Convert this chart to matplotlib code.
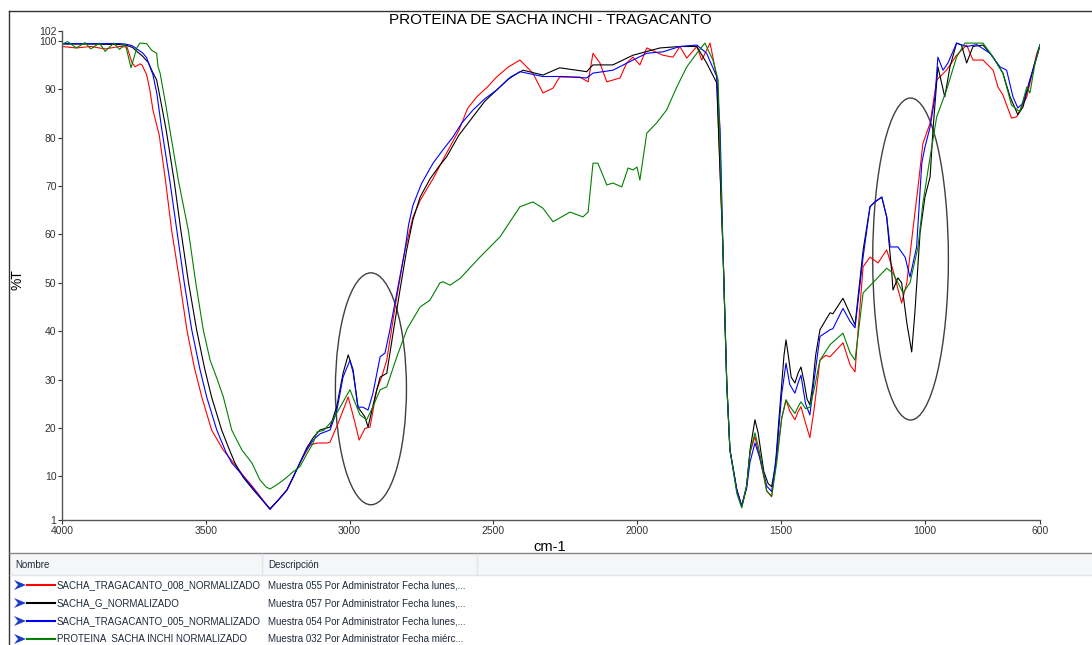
import matplotlib
matplotlib.use("Agg")
import matplotlib.pyplot as plt
from matplotlib.patches import Ellipse, Polygon, Rectangle
from matplotlib.lines import Line2D

plt.rcParams['font.family'] = ['Liberation Sans', 'DejaVu Sans']

# ---- data (wavenumber cm-1, %T) ----
red_wn = [4000, 3950, 3900, 3850, 3800, 3774, 3757, 3746, 3729, 3722, 3706, 3695, 3684, 3662,
          3640, 3619, 3590, 3566, 3540, 3514, 3480, 3440, 3404, 3370, 3336, 3300, 3277, 3242,
          3218, 3173, 3138, 3113, 3079, 3068, 3040, 3005, 2981, 2967, 2947, 2929, 2906, 2889,
          2871, 2842, 2808, 2780, 2755, 2710, 2663, 2620, 2590, 2558, 2520, 2489, 2450, 2408,
          2363, 2328, 2293, 2270, 2200, 2171, 2154, 2130, 2106, 2060, 2037, 2015, 1991, 1967,
          1911, 1876, 1852, 1828, 1793, 1776, 1747, 1724, 1702, 1689, 1678, 1654, 1637, 1620,
          1608, 1591, 1575, 1550, 1533, 1515, 1498, 1483, 1470, 1452, 1440, 1431, 1415, 1400,
          1385, 1365, 1345, 1330, 1310, 1285, 1260, 1243, 1230, 1215, 1191, 1163, 1133, 1111,
          1081, 1063, 1042, 1024, 1007, 982, 959, 925, 890, 855, 833, 798, 763, 746, 729, 699,
          681, 646, 611, 600]
red_t = [98.8, 98.5, 98.8, 98.3, 98.8, 98.7, 95.5, 94.6, 95.2, 95.0, 93.0, 90.0, 85.7, 80.5,
         71.0, 60.9, 50.0, 40.3, 32.5, 26.4, 19.6, 15.5, 12.8, 10.2, 7.8, 5.0, 3.3, 5.5,
         7.2, 12.8, 16.5, 16.9, 16.9, 17.1, 21.0, 26.4, 21.0, 17.5, 19.9, 20.2, 27.9, 30.5,
         34.0, 45.0, 56.7, 63.5, 67.0, 71.5, 76.8, 81.5, 86.0, 88.4, 90.5, 92.5, 94.5, 96.0,
         93.3, 89.2, 90.2, 92.5, 92.5, 91.5, 97.4, 95.4, 91.5, 92.3, 95.4, 96.6, 95.0, 98.5,
         97.0, 96.6, 98.8, 96.4, 98.8, 96.0, 99.5, 92.6, 56.7, 29.3, 15.5, 7.2, 4.0, 8.0,
         15.0, 18.2, 14.0, 7.0, 5.8, 14.0, 22.0, 25.8, 23.5, 21.7, 23.5, 24.4, 21.0, 18.0,
         24.0, 34.0, 35.0, 34.7, 36.0, 37.6, 33.0, 31.6, 42.0, 53.3, 55.3, 54.1, 56.8, 52.6,
         45.8, 50.0, 60.9, 69.8, 78.8, 83.0, 91.9, 93.9, 97.0, 99.1, 96.0, 96.0, 93.9, 90.4, 88.8, 84.0,
         84.3, 88.4, 97.4, 99.1]

black_wn = [4000, 3900, 3800, 3774, 3755, 3740, 3720, 3700, 3685, 3671, 3655, 3638, 3610, 3587,
            3560, 3532, 3505, 3480, 3445, 3420, 3399, 3370, 3336, 3305, 3277, 3250, 3218, 3195,
            3173, 3150, 3127, 3103, 3068, 3045, 3023, 3005, 2988, 2971, 2947, 2936, 2912, 2894,
            2871, 2849, 2825, 2802, 2780, 2755, 2720, 2690, 2663, 2620, 2571, 2530, 2489, 2440,
            2397, 2328, 2270, 2176, 2154, 2085, 2015, 1921, 1852, 1793, 1759, 1724, 1702, 1689,
            1678, 1654, 1637, 1620, 1608, 1591, 1580, 1560, 1545, 1533, 1520, 1510, 1498, 1490,
            1483, 1475, 1465, 1452, 1440, 1431, 1420, 1410, 1400, 1390, 1380, 1365, 1330, 1320,
            1285, 1243, 1215, 1191, 1174, 1150, 1133, 1116, 1111, 1094, 1081, 1063, 1046, 1035,
            1017, 1000, 982, 972, 955, 931, 913, 890, 873, 855, 833, 798, 763, 729, 704, 677,
            659, 635, 600]
black_t = [99.3, 99.3, 99.2, 99.0, 98.6, 97.8, 96.8, 95.5, 93.5, 91.9, 87.0, 81.6, 71.0, 60.9,
           50.0, 40.3, 32.5, 26.4, 19.6, 15.8, 12.8, 9.8, 7.3, 5.2, 3.3, 5.0, 7.2, 10.0,
           12.8, 15.8, 18.0, 19.6, 20.2, 24.4, 31.3, 35.1, 32.0, 24.3, 22.3, 20.2, 26.4, 30.5,
           31.3, 39.6, 48.5, 56.7, 63.0, 67.7, 71.5, 74.0, 76.0, 80.5, 84.3, 87.5, 89.8, 92.5,
           93.9, 92.9, 94.4, 93.6, 95.0, 95.0, 97.0, 98.5, 98.8, 98.8, 95.4, 91.3, 56.7, 29.3,
           15.5, 7.2, 3.8, 8.0, 15.5, 21.7, 19.0, 11.0, 8.5, 7.9, 12.0, 20.0, 29.0, 35.0,
           38.2, 35.0, 30.5, 29.3, 31.5, 32.6, 29.5, 26.0, 24.8, 29.0, 35.0, 40.3, 43.8, 43.6,
           46.8, 41.3, 56.7, 65.7, 66.7, 67.7, 63.6, 52.6, 48.5, 51.0, 50.0, 41.7, 35.7, 43.8,
           60.3, 67.7, 71.9, 81.6, 94.6, 88.4, 94.6, 99.5, 99.1, 95.4, 98.8, 99.1, 96.6, 93.3, 88.4, 84.7,
           86.3, 91.9, 99.1]

blue_wn = [4000, 3800, 3780, 3757, 3740, 3720, 3706, 3684, 3670, 3653, 3625, 3601, 3575, 3549,
           3520, 3497, 3462, 3430, 3410, 3381, 3345, 3312, 3277, 3250, 3218, 3195, 3173, 3150,
           3127, 3103, 3068, 3045, 3023, 2999, 2988, 2971, 2954, 2936, 2919, 2894, 2877, 2860,
           2836, 2808, 2795, 2780, 2750, 2710, 2675, 2641, 2610, 2571, 2530, 2489, 2450, 2408,
           2328, 2259, 2176, 2154, 2085, 2015, 1967, 1911, 1852, 1793, 1759, 1724, 1712, 1702,
           1689, 1678, 1654, 1637, 1620, 1608, 1591, 1575, 1550, 1533, 1515, 1498, 1483, 1470,
           1452, 1440, 1431, 1415, 1400, 1385, 1365, 1330, 1320, 1285, 1260, 1243, 1215, 1191,
           1174, 1150, 1133, 1121, 1094, 1069, 1052, 1029, 1011, 1000, 982, 965, 955, 937, 920,
           890, 855, 820, 774, 739, 716, 694, 677, 659, 635, 611, 600]
blue_t = [99.4, 99.4, 99.3, 99.0, 98.3, 97.5, 96.5, 93.0, 89.0, 81.6, 71.0, 60.9, 50.0, 40.3,
          32.0, 26.4, 19.6, 15.0, 12.8, 10.8, 8.2, 5.8, 3.2, 5.0, 7.2, 10.0, 12.8, 15.5,
          17.5, 18.8, 19.6, 23.5, 30.5, 34.0, 31.5, 24.3, 24.3, 23.7, 27.2, 34.7, 35.5, 40.3,
          47.9, 56.7, 62.0, 66.0, 70.5, 74.7, 77.5, 80.1, 83.0, 85.7, 88.0, 89.8, 92.0, 93.6,
          92.6, 92.6, 92.3, 93.3, 93.9, 96.0, 97.4, 97.7, 98.8, 99.1, 97.4, 92.6, 81.6, 56.7,
          29.3, 15.5, 7.2, 3.8, 7.5, 13.0, 16.9, 14.0, 8.0, 6.9, 15.0, 27.0, 33.4, 29.0,
          27.2, 29.5, 30.9, 25.0, 22.7, 30.0, 38.9, 40.3, 40.5, 44.7, 42.0, 40.7, 55.3, 65.7,
          66.7, 67.7, 63.6, 57.4, 57.4, 55.3, 51.2, 57.4, 74.7, 78.0, 82.2, 88.4, 96.6, 93.9, 95.4,
          99.5, 98.8, 99.2, 97.4, 94.6, 93.9, 88.4, 86.1, 87.1, 91.9, 96.6, 99.1]

green_wn = [4000, 3980, 3950, 3920, 3900, 3870, 3850, 3820, 3800, 3780, 3760, 3740, 3729, 3706,
            3688, 3671, 3666, 3659, 3640, 3625, 3595, 3561, 3535, 3509, 3485, 3460, 3439, 3410,
            3375, 3340, 3312, 3290, 3277, 3250, 3225, 3200, 3173, 3150, 3127, 3113, 3090, 3058,
            2999, 2964, 2941, 2919, 2894, 2871, 2836, 2800, 2755, 2721, 2686, 2675, 2651, 2616,
            2547, 2477, 2408, 2363, 2328, 2293, 2234, 2189, 2171, 2154, 2137, 2106, 2085, 2054,
            2032, 2015, 2001, 1991, 1967, 1933, 1898, 1863, 1828, 1793, 1765, 1737, 1719, 1702,
            1689, 1678, 1654, 1637, 1620, 1608, 1591, 1575, 1550, 1533, 1515, 1498, 1483, 1470,
            1452, 1440, 1431, 1415, 1400, 1385, 1365, 1330, 1285, 1260, 1243, 1215, 1181, 1133,
            1111, 1076, 1052, 1024, 1007, 982, 959, 925, 890, 861, 798, 763, 729, 699, 670, 646,
            635, 617, 600]
green_t = [99.3, 99.8, 98.5, 99.6, 98.3, 99.5, 97.8, 99.5, 98.2, 99.3, 94.4, 98.5, 99.5, 99.4,
           98.0, 97.4, 94.6, 93.3, 87.0, 81.6, 71.0, 60.9, 50.0, 40.3, 34.0, 30.0, 26.4, 19.6,
           15.5, 12.8, 9.3, 7.8, 7.4, 8.4, 9.5, 10.8, 12.0, 14.5, 16.9, 19.2, 19.5, 21.7,
           27.9, 22.7, 21.7, 24.4, 27.9, 28.5, 34.7, 40.5, 45.0, 46.4, 50.0, 50.2, 49.5, 50.9,
           55.3, 59.5, 65.7, 66.7, 65.4, 62.6, 64.6, 63.6, 64.6, 74.7, 74.7, 70.2, 70.6, 69.8,
           73.7, 73.3, 73.9, 71.2, 80.9, 83.0, 85.7, 90.4, 94.6, 97.4, 99.5, 96.0, 91.9, 56.7,
           29.3, 15.5, 6.5, 3.5, 8.0, 15.0, 19.0, 15.0, 7.0, 5.9, 13.0, 22.0, 25.8, 24.5,
           23.0, 24.5, 25.4, 24.0, 24.3, 28.0, 34.0, 37.2, 39.6, 35.5, 34.0, 47.9, 50.0, 53.0,
           52.0, 47.9, 50.0, 57.4, 66.5, 76.0, 84.3, 89.8, 96.6, 99.5, 99.5, 96.6, 93.3, 86.7, 85.3, 90.4,
           89.2, 95.4, 99.1]

names = ['SACHA_TRAGACANTO_008_NORMALIZADO', 'SACHA_G_NORMALIZADO',
         'SACHA_TRAGACANTO_005_NORMALIZADO', 'PROTEINA  SACHA INCHI NORMALIZADO']
descriptions = ['Muestra 055 Por Administrator Fecha lunes,...',
                'Muestra 057 Por Administrator Fecha lunes,...',
                'Muestra 054 Por Administrator Fecha lunes,...',
                'Muestra 032 Por Administrator Fecha miérc...']
colors = ['#ff0000', '#000000', '#0000ff', '#008000']

x_ticks = [4000, 3500, 3000, 2500, 2000, 1500, 1000, 600]
y_ticks = [1, 10, 20, 30, 40, 50, 60, 70, 80, 90, 100, 102]

# highlighted regions: (center wn, center %T, width wn, height %T)
ellipses = [(2926, 28.1, 247, 47.9), (1050, 54.9, 263, 66.5)]

W, H = 1092, 645
fig = plt.figure(figsize=(W / 100, H / 100), dpi=100)


def fx(px):
    return px / W


def fy(py):
    return 1 - py / H


ax = fig.add_axes([fx(62), fy(520), fx(1040) - fx(62), fy(31) - fy(520)])

series = [(red_wn, red_t), (black_wn, black_t), (blue_wn, blue_t), (green_wn, green_t)]
for (wn, t), c in zip(series, colors):
    ax.plot(wn, t, color=c, lw=0.8)

for cx, cy, w, h in ellipses:
    ax.add_patch(Ellipse((cx, cy), w, h, fill=False, edgecolor='#404040', lw=1.0, clip_on=False))

ax.set_xlim(4000, 600)
ax.set_ylim(1, 102)
ax.set_xticks(x_ticks)
ax.set_yticks(y_ticks)
ax.tick_params(labelsize=7.5, length=3, width=0.8, colors='#333333', pad=1)
for s in ['top', 'right']:
    ax.spines[s].set_visible(False)
for s in ['left', 'bottom']:
    ax.spines[s].set_color('#555555')
    ax.spines[s].set_linewidth(1.0)

fig.text(fx(550), fy(20), 'PROTEINA DE SACHA INCHI - TRAGACANTO', ha='center', va='center', fontsize=11)
fig.text(fx(550), fy(547), 'cm-1', ha='center', va='center', fontsize=10.5)
fig.text(fx(18), fy(280), '%T', ha='center', va='center', fontsize=10, rotation=90)

# outer frame of the chart panel
fig.add_artist(Line2D([fx(9), fx(9)], [fy(11), fy(645)], color='#333333', lw=1))
fig.add_artist(Line2D([fx(9), fx(1092)], [fy(11), fy(11)], color='#333333', lw=1))
fig.add_artist(Line2D([fx(9), fx(1092)], [fy(553), fy(553)], color='#888888', lw=1))

# table header
fig.add_artist(Rectangle((fx(10), fy(575)), fx(1092) - fx(10), fy(554) - fy(575),
                         facecolor='#f4f6f8', edgecolor='none'))
fig.add_artist(Line2D([fx(10), fx(1092)], [fy(575), fy(575)], color='#e2e4e8', lw=1))
for xs in [262, 477]:
    fig.add_artist(Line2D([fx(xs), fx(xs)], [fy(554), fy(575)], color='#e2e4e8', lw=1))
fig.text(fx(15), fy(565), 'Nombre', ha='left', va='center', fontsize=7, color='#1e2a3a')
fig.text(fx(268), fy(565), 'Descripción', ha='left', va='center', fontsize=7, color='#1e2a3a')

row_y = [585, 603, 621, 639]
for yy, name, desc, c in zip(row_y, names, descriptions, colors):
    fig.add_artist(Polygon([(fx(14), fy(yy - 5)), (fx(26), fy(yy)), (fx(14), fy(yy + 5)), (fx(18), fy(yy))],
                           closed=True, facecolor='#1a3cc8', edgecolor='none'))
    fig.add_artist(Line2D([fx(27), fx(55)], [fy(yy), fy(yy)], color=c, lw=1.5))
    fig.text(fx(57), fy(yy), name, ha='left', va='center', fontsize=7, color='#1e2a3a')
    fig.text(fx(268), fy(yy), desc, ha='left', va='center', fontsize=7, color='#1e2a3a')

fig.savefig('out.png', dpi=100)
